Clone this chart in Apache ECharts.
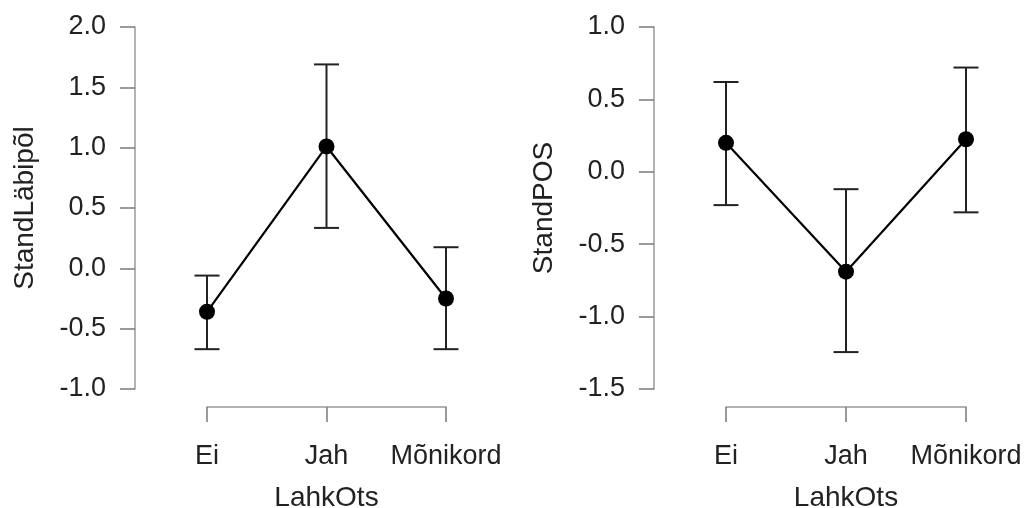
<!DOCTYPE html>
<html>
<head>
<meta charset="utf-8">
<script src="https://cdn.jsdelivr.net/npm/echarts@6/dist/echarts.min.js"></script>
<style>html,body{margin:0;padding:0;background:#fff;}#c{width:1026px;height:508px;}</style>
</head>
<body>
<div id="c"></div>
<script>
const categories = ['Ei', 'Jah', 'Mõnikord'];
const xName = 'LahkOts';

const leftName = 'StandLäbipõl';
const leftMean = [-0.36, 1.01, -0.25];
const leftLower = [-0.67, 0.335, -0.67];
const leftUpper = [-0.06, 1.69, 0.175];
const leftTicks = { min: -1.0, max: 2.0, interval: 0.5 };

const rightName = 'StandPOS';
const rightMean = [0.20, -0.69, 0.225];
const rightLower = [-0.23, -1.245, -0.28];
const rightUpper = [0.62, -0.12, 0.72];
const rightTicks = { min: -1.5, max: 1.0, interval: 0.5 };

const FONT = 'Liberation Sans, Arial, sans-serif';
const FS = 27;
const NFS = 28;
const AXIS_COLOR = '#9a9a9a';
const TICK_COLOR = '#7a7a7a';

const chart = echarts.init(document.getElementById('c'), null, { renderer: 'canvas' });

function xAxisFor(gi) {
  return {
    type: 'category', gridIndex: gi, data: categories, boundaryGap: false,
    offset: 18,
    name: xName, nameLocation: 'middle', nameGap: 77,
    nameTextStyle: { fontFamily: FONT, fontSize: NFS, color: '#222' },
    axisLine: { show: true, onZero: false, lineStyle: { color: AXIS_COLOR, width: 1.5 } },
    axisTick: { show: true, alignWithLabel: true, length: 15, lineStyle: { color: TICK_COLOR, width: 1.5 } },
    axisLabel: { fontFamily: FONT, fontSize: FS, color: '#222', margin: 36, interval: 0, hideOverlap: false },
    splitLine: { show: false }
  };
}
function yAxisFor(gi, t, name) {
  return {
    type: 'value', gridIndex: gi, min: t.min, max: t.max, interval: t.interval,
    offset: 72,
    name: name, nameLocation: 'middle', nameGap: 96, nameRotate: 90,
    nameTextStyle: { fontFamily: FONT, fontSize: NFS, color: '#222' },
    axisLine: { show: true, onZero: false, lineStyle: { color: AXIS_COLOR, width: 1.5 } },
    axisTick: { show: true, length: 15, lineStyle: { color: TICK_COLOR, width: 1.5 } },
    axisLabel: { fontFamily: FONT, fontSize: FS, color: '#222', margin: 29,
      formatter: v => v.toFixed(1) },
    splitLine: { show: false }
  };
}
function errSeries(gi, lower, upper) {
  return {
    type: 'custom', xAxisIndex: gi, yAxisIndex: gi, z: 2,
    data: categories.map((c, i) => [i, lower[i], upper[i]]),
    renderItem: function (params, api) {
      const x = api.value(0);
      const lo = api.coord([x, api.value(1)]);
      const hi = api.coord([x, api.value(2)]);
      const hw = 12.5;
      const st = { stroke: '#222', lineWidth: 2, fill: null };
      return {
        type: 'group',
        children: [
          { type: 'line', shape: { x1: lo[0], y1: lo[1], x2: hi[0], y2: hi[1] }, style: st },
          { type: 'line', shape: { x1: lo[0] - hw, y1: lo[1], x2: lo[0] + hw, y2: lo[1] }, style: st },
          { type: 'line', shape: { x1: hi[0] - hw, y1: hi[1], x2: hi[0] + hw, y2: hi[1] }, style: st }
        ]
      };
    }
  };
}
function meanSeries(gi, mean) {
  return {
    type: 'line', xAxisIndex: gi, yAxisIndex: gi, z: 3, data: mean,
    symbol: 'circle', symbolSize: 16,
    lineStyle: { color: '#000', width: 2.2 },
    itemStyle: { color: '#000' },
    animation: false
  };
}

chart.setOption({
  animation: false,
  backgroundColor: '#fff',
  grid: [
    { left: 207, width: 239, top: 27, height: 362, containLabel: false, outerBoundsMode: 'none' },
    { left: 726, width: 240, top: 27, height: 362, containLabel: false, outerBoundsMode: 'none' }
  ],
  xAxis: [xAxisFor(0), xAxisFor(1)],
  yAxis: [yAxisFor(0, leftTicks, leftName), yAxisFor(1, rightTicks, rightName)],
  series: [
    errSeries(0, leftLower, leftUpper), meanSeries(0, leftMean),
    errSeries(1, rightLower, rightUpper), meanSeries(1, rightMean)
  ]
});
</script>
</body>
</html>
